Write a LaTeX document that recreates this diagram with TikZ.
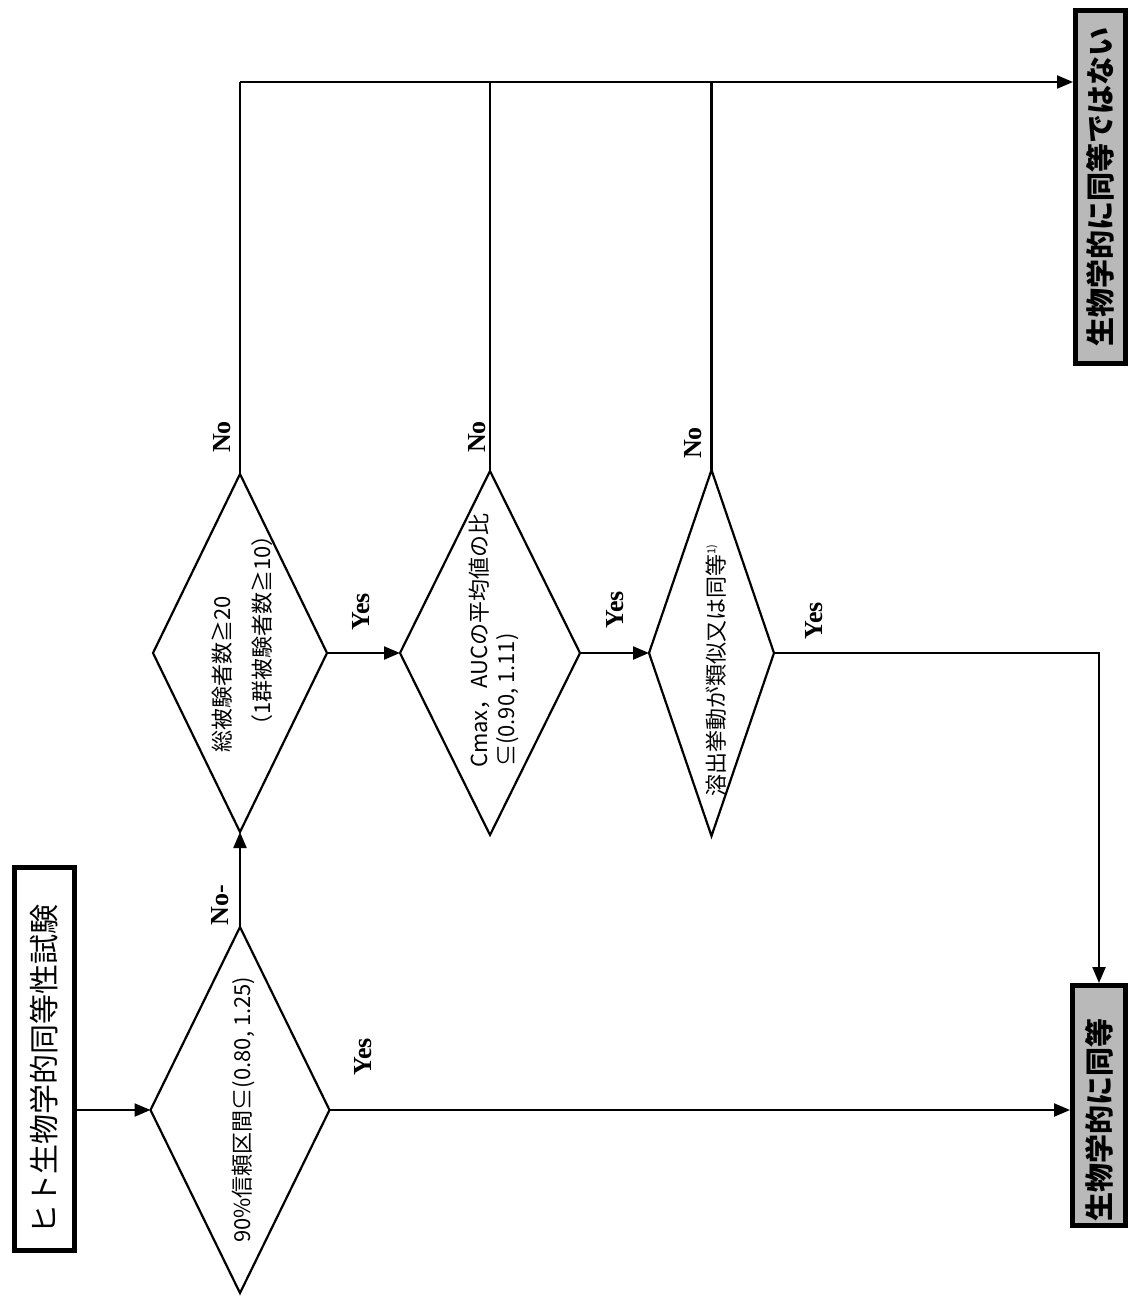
\documentclass[tikz,border=0pt]{standalone}
\usepackage{fontspec}
\setmainfont{Liberation Serif}
\newfontfamily\jp{Noto Sans CJK JP}
\usetikzlibrary{shapes.geometric,arrows.meta}
\begin{document}
\begin{tikzpicture}[x=1pt,y=-1pt,
  line/.style={line width=2.2pt},
  arr/.style={line width=2.2pt,-{Triangle[length=16pt,width=13pt]}},
  dia/.style={diamond,draw,line width=2.2pt,inner sep=0pt,outer sep=0pt},
  dtext/.style={rotate=90,anchor=west,inner sep=0pt,font=\jp\fontsize{22}{26}\selectfont},
  lab/.style={rotate=90,inner sep=0pt,font=\bfseries\fontsize{26}{26}\selectfont},
  startbox/.style={draw,line width=5pt,fill=white,inner sep=0pt,font=\jp\fontsize{30}{32}\selectfont},
  endbox/.style={draw,line width=5pt,fill=gray!55,inner sep=0pt,font=\jp\bfseries\fontsize{29}{31}\selectfont}
]
\useasboundingbox[fill=white] (0,0) rectangle (1130,1296);

% boxes
\node[startbox,minimum width=60pt,minimum height=383pt] (start) at (44.5,1059) {\rotatebox{90}{ヒト生物学的同等性試験\hspace{20pt}}};
\node[endbox,minimum width=53pt,minimum height=240pt] (eq) at (1099,1105.5) {\rotatebox{90}{生物学的に同等\hspace{28pt}}};
\node[endbox,minimum width=50pt,minimum height=353pt] (neq) at (1100.5,187) {\rotatebox{90}{生物学的に同等ではない}};

% diamonds
\node[dia,minimum width=179pt,minimum height=366pt] (d1) at (240,1110) {};
\node[dia,minimum width=174pt,minimum height=358pt] (d2) at (240,653) {};
\node[dia,minimum width=180pt,minimum height=364pt] (d3) at (490,653) {};
\node[dia,minimum width=125pt,minimum height=366pt] (d4) at (711.5,653) {};

% diamond texts
\node[dtext] (t1) at (243,1243) {90\%信頼区間⊆(0.80, 1.25)};
\node[dtext] (t2a) at (222,753) {総被験者数≧20};
\node[dtext] (t2b) at (262,737) {（1群被験者数≧10）};
\node[dtext] (t3a) at (479,768) {Cmax，AUCの平均値の比};
\node[dtext] (t3b) at (508,767) {⊆(0.90, 1.11)};
\node[dtext] (t4) at (716,797) {溶出挙動が類似又は同等{\fontsize{11}{11}\selectfont\raisebox{9pt}{1)}}};

% connectors
\draw[arr] (start.east |- d1.west) -- (d1.west);
\draw[arr] (d1.north) -- (d2.south);
\draw[arr] (d1.east) -- (d1.east -| eq.west);
\draw[arr] (d2.east) -- (d3.west);
\draw[arr] (d3.east) -- (d4.west);
\coordinate (c2) at (240,82);
\draw[line] (d2.north) -- (c2);
\draw[arr] (c2) -- (c2 -| neq.west);
\draw[line] (d3.north) -- (d3.north |- c2);
\draw[line] (d4.north) -- (d4.north |- c2);
\draw[arr] (d4.east) -| (eq.north);

% labels
\node[lab] (n1) at (220,905) {No-};
\node[lab] (n2) at (222,437) {No};
\node[lab] (n3) at (477,437) {No};
\node[lab] (n4) at (693,443) {No};
\node[lab] (y1) at (363,1057) {Yes};
\node[lab] (y2) at (361,612) {Yes};
\node[lab] (y3) at (615,610) {Yes};
\node[lab] (y4) at (814,621) {Yes};
\end{tikzpicture}
\end{document}
